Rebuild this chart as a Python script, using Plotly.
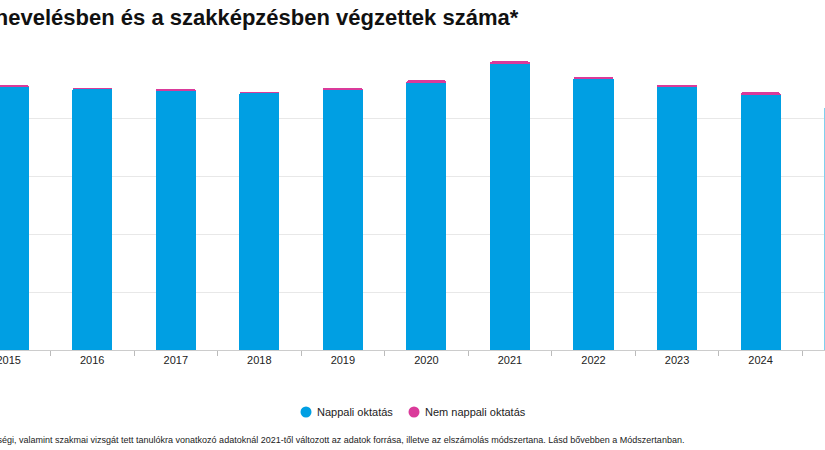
import plotly.graph_objects as go

years = ["2015", "2016", "2017", "2018", "2019", "2020", "2021", "2022", "2023", "2024", "2025"]
nappali = [228000, 225800, 224900, 222500, 225300, 231000, 247400, 234200, 227800, 221400, 209600]
nem_nappali = [1500, 500, 800, 500, 1200, 2200, 2200, 2200, 1100, 1400, 0]
y_ticks = [0, 50000, 100000, 150000, 200000, 250000]
series_names = ["Nappali oktatás", "Nem nappali oktatás"]

title_text = "A köznevelésben és a szakképzésben végzettek száma*"
footnote_text = ("* Az érettségi, valamint szakmai vizsgát tett tanulókra vonatkozó adatoknál 2021-től "
                 "változott az adatok forrása, illetve az elszámolás módszertana. Lásd bővebben a Módszertanban.")

BLUE = "#009FE3"
PINK = "#DA3A9A"
LIGHT = "#7FD0EE"

W, H = 825, 450
T, B = 61, 100
PH = H - T - B

bar_colors = [BLUE] * (len(years) - 1) + [LIGHT]

fig = go.Figure()
fig.add_trace(go.Bar(x=years, y=nappali, name=series_names[0], marker=dict(color=bar_colors, line=dict(width=0)),
                     showlegend=False, hoverinfo="skip"))
fig.add_trace(go.Bar(x=years, y=nem_nappali, name=series_names[1], marker=dict(color=PINK, line=dict(width=0)),
                     showlegend=False, hoverinfo="skip"))


def px_x(px):
    return px / W


def px_y(py):
    return (H - B - py) / PH


# custom legend (circle + label), centred below the chart
legend_items = [(306, BLUE, series_names[0]), (414, PINK, series_names[1])]
shapes = []
annotations = []
ly = 412
r = 5.5
for cx, col, name in legend_items:
    shapes.append(dict(type="circle", xref="paper", yref="paper",
                       x0=px_x(cx - r), x1=px_x(cx + r), y0=px_y(ly + r), y1=px_y(ly - r),
                       fillcolor=col, line=dict(width=0)))
    annotations.append(dict(text=name, xref="paper", yref="paper", x=px_x(cx + 9), y=px_y(ly),
                            xanchor="left", yanchor="middle", showarrow=False,
                            font=dict(size=11, color="#222", family="Liberation Sans, Arial, sans-serif")))

annotations += [
    dict(text="<b>" + title_text + "</b>", xref="paper", yref="paper", x=0, y=1, xanchor="left",
         yanchor="middle", xshift=-65, yshift=(T - 17), showarrow=False,
         font=dict(size=22, color="#111", family="Liberation Sans, Arial, sans-serif")),
    dict(text=footnote_text, xref="paper", yref="paper", x=0, y=0, xanchor="left", yanchor="middle",
         xshift=-41, yshift=-(440 - (H - B)), showarrow=False,
         font=dict(size=9, color="#222", family="Liberation Sans, Arial, sans-serif")),
]

fig.update_layout(
    width=W, height=H,
    barmode="stack", bargap=0.52, barcornerradius=2,
    paper_bgcolor="white", plot_bgcolor="white",
    margin=dict(l=0, r=0, t=T, b=B, autoexpand=False),
    font=dict(family="Liberation Sans, Arial, sans-serif", color="#222", size=11),
    showlegend=False,
    xaxis=dict(type="category", range=[-0.104, 9.771], tickson="boundaries", ticks="outside", automargin=False,
               ticklen=5, tickcolor="#bbbbbb", showline=True, linecolor="#cccccc", linewidth=1,
               showgrid=False, tickfont=dict(size=11, color="#222")),
    yaxis=dict(range=[0, 250000], tickvals=y_ticks, showticklabels=False, showgrid=True, automargin=False,
               gridcolor="#e8e8e8", gridwidth=1, zeroline=False, fixedrange=True),
    shapes=shapes,
    annotations=annotations,
)

fig.write_html("out.html")
